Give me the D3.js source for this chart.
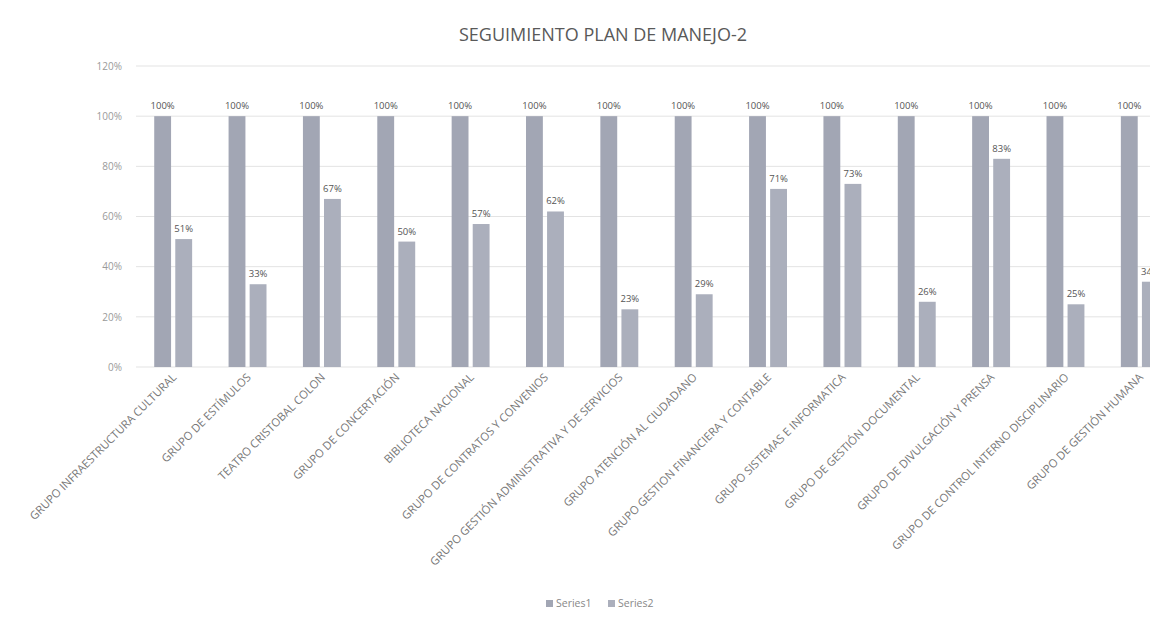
<!DOCTYPE html>
<html><head><meta charset="utf-8">
<script src="https://cdn.jsdelivr.net/npm/d3@7"></script>
<style>body{margin:0;background:#fff;overflow:hidden}text{font-family:"Open Sans",sans-serif}</style>
</head><body>
<svg id="c" width="1150" height="618"></svg>
<script>
const categories = ["GRUPO INFRAESTRUCTURA CULTURAL","GRUPO DE ESTÍMULOS","TEATRO CRISTOBAL COLON","GRUPO DE CONCERTACIÓN","BIBLIOTECA NACIONAL","GRUPO DE CONTRATOS Y CONVENIOS","GRUPO GESTIÓN ADMINISTRATIVA Y DE SERVICIOS","GRUPO ATENCIÓN AL CIUDADANO","GRUPO GESTION FINANCIERA Y CONTABLE","GRUPO SISTEMAS E INFORMATICA","GRUPO DE GESTIÓN DOCUMENTAL","GRUPO DE DIVULGACIÓN Y PRENSA","GRUPO DE CONTROL INTERNO DISCIPLINARIO","GRUPO DE GESTIÓN HUMANA"];
const series1 = [100,100,100,100,100,100,100,100,100,100,100,100,100,100];
const series2 = [51,33,67,50,57,62,23,29,71,73,26,83,25,34];
const seriesNames = ["Series1","Series2"];
const yTicks = [0,20,40,60,80,100,120];
const title = "SEGUIMIENTO PLAN DE MANEJO-2";

const svg = d3.select("#c");
const colors = ["#a2a6b4","#abafbc"];
const y = d3.scaleLinear().domain([0,120]).range([367,66]);
const x0 = d3.scaleBand().domain(categories).range([136,1177]).paddingInner(0.49).paddingOuter(0.245);
const x1 = d3.scaleBand().domain(seriesNames).range([0,x0.bandwidth()]).paddingInner(0.2);

// gridlines
svg.append("g").selectAll("line").data(yTicks).join("line")
  .attr("x1",136).attr("x2",1150).attr("y1",d=>y(d)).attr("y2",d=>y(d))
  .attr("stroke","#e3e3e3").attr("stroke-width",1);

// y axis labels
const yAxis = d3.axisLeft(y).tickValues(yTicks).tickFormat(d=>d+"%").tickSize(0).tickPadding(0);
const ga = svg.append("g").attr("transform","translate(122,0)").call(yAxis);
ga.select(".domain").remove();
ga.selectAll("text").attr("fill","#9a9a9a").style("font-size","10px").style("font-family","'Open Sans',sans-serif");

svg.append("text").attr("x",603).attr("y",41).attr("text-anchor","middle")
  .attr("fill","#595959").style("font-size","18px").text(title);

const data = categories.map((c,i)=>({c, vals:[series1[i],series2[i]]}));
const g = svg.append("g").selectAll("g").data(data).join("g")
  .attr("transform",d=>`translate(${x0(d.c)},0)`);
g.selectAll("rect").data(d=>d.vals.map((v,j)=>({v,s:seriesNames[j],j}))).join("rect")
  .attr("x",d=>x1(d.s)).attr("width",x1.bandwidth())
  .attr("y",d=>y(d.v)).attr("height",d=>y(0)-y(d.v))
  .attr("fill",d=>colors[d.j]);
g.selectAll("text.lbl").data(d=>d.vals.map((v,j)=>({v,s:seriesNames[j],j}))).join("text")
  .attr("class","lbl").attr("x",d=>x1(d.s)+x1.bandwidth()/2).attr("y",d=>y(d.v)-7)
  .attr("text-anchor","middle").attr("fill","#555").style("font-size","9.5px")
  .text(d=>d.v+"%");

// x labels
svg.append("g").selectAll("text").data(categories).join("text")
  .attr("transform",d=>`translate(${x0(d)+x0.bandwidth()/2+4},378) rotate(-45)`)
  .attr("text-anchor","end").attr("fill","#777").style("font-size","11.3px").text(d=>d);

// legend
const lg = svg.append("g").attr("transform","translate(546,607)");
const li = lg.selectAll("g").data(seriesNames).join("g").attr("transform",(d,i)=>`translate(${i*62},0)`);
li.append("rect").attr("x",0).attr("y",-7).attr("width",7).attr("height",7).attr("fill",(d,i)=>colors[i]);
li.append("text").attr("x",10).attr("y",0).attr("fill","#888").style("font-size","10.5px").text(d=>d);
</script>
</body></html>
